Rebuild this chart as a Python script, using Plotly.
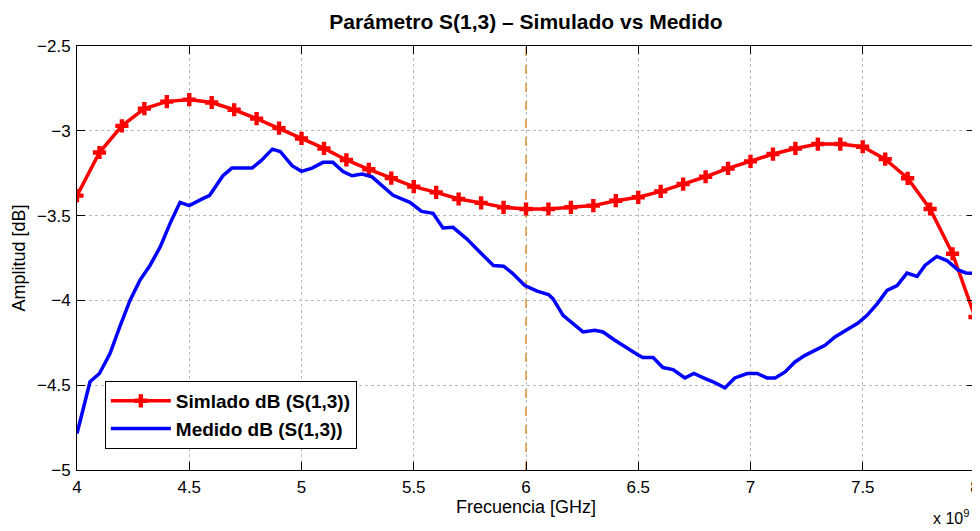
import plotly.graph_objects as go

# ---- data ----
sim_freq_ghz = [4.0, 4.1, 4.2, 4.3, 4.4, 4.5, 4.6, 4.7, 4.8, 4.9,
                5.0, 5.1, 5.2, 5.3, 5.4, 5.5, 5.6, 5.7, 5.8, 5.9,
                6.0, 6.1, 6.2, 6.3, 6.4, 6.5, 6.6, 6.7, 6.8, 6.9,
                7.0, 7.1, 7.2, 7.3, 7.4, 7.5, 7.6, 7.7, 7.8, 7.9, 8.0]
sim_db = [-3.382, -3.128, -2.971, -2.869, -2.828, -2.816, -2.833, -2.876, -2.928, -2.984,
          -3.045, -3.104, -3.172, -3.227, -3.279, -3.329, -3.363, -3.402, -3.425, -3.451,
          -3.461, -3.461, -3.451, -3.441, -3.412, -3.392, -3.357, -3.314, -3.271, -3.222,
          -3.180, -3.137, -3.104, -3.078, -3.078, -3.094, -3.167, -3.280, -3.461, -3.725, -4.098]

meas_freq_ghz = [4.0, 4.058, 4.10, 4.147, 4.19, 4.236, 4.28, 4.325, 4.37, 4.42,
                 4.459, 4.50, 4.56, 4.59, 4.65, 4.69, 4.78, 4.82, 4.87, 4.905,
                 4.958, 5.0, 5.047, 5.096, 5.14, 5.185, 5.225, 5.27, 5.314, 5.363,
                 5.408, 5.483, 5.535, 5.586, 5.63, 5.675, 5.736, 5.795, 5.855, 5.9,
                 5.94, 5.995, 6.05, 6.1, 6.12, 6.165, 6.21, 6.254, 6.307, 6.343,
                 6.396, 6.45, 6.494, 6.52, 6.566, 6.61, 6.655, 6.708, 6.748, 6.788,
                 6.833, 6.886, 6.93, 6.985, 7.03, 7.073, 7.11, 7.154, 7.198, 7.243,
                 7.287, 7.332, 7.376, 7.434, 7.479, 7.519, 7.564, 7.608, 7.653, 7.697,
                 7.742, 7.777, 7.83, 7.875, 7.924, 7.96, 8.0]
meas_db = [-4.785, -4.48, -4.431, -4.314, -4.157, -4.0, -3.882, -3.794, -3.686, -3.53,
           -3.422, -3.441, -3.40, -3.382, -3.265, -3.22, -3.22, -3.176, -3.108, -3.122,
           -3.206, -3.239, -3.22, -3.186, -3.186, -3.24, -3.265, -3.255, -3.272, -3.33,
           -3.38, -3.422, -3.475, -3.486, -3.573, -3.569, -3.637, -3.716, -3.794, -3.798,
           -3.84, -3.912, -3.945, -3.965, -3.99, -4.088, -4.141, -4.186, -4.176, -4.186,
           -4.235, -4.284, -4.318, -4.337, -4.337, -4.396, -4.408, -4.457, -4.431, -4.455,
           -4.48, -4.516, -4.457, -4.431, -4.431, -4.457, -4.457, -4.422, -4.363, -4.324,
           -4.294, -4.265, -4.216, -4.167, -4.133, -4.088, -4.02, -3.941, -3.912, -3.839,
           -3.859, -3.794, -3.741, -3.765, -3.82, -3.838, -3.84]

marker_freq_ghz = 6.0
x_range = [4, 8]
y_range = [-5, -2.5]
x_ticks = [4, 4.5, 5, 5.5, 6, 6.5, 7, 7.5, 8]
y_ticks = [-5, -4.5, -4, -3.5, -3, -2.5]

FONT = "Liberation Sans, Arial, sans-serif"

fig = go.Figure()
# vertical reference line at the marker frequency (drawn first, above the grid, below the curves)
fig.add_trace(go.Scatter(
    x=[marker_freq_ghz, marker_freq_ghz], y=y_range, mode="lines",
    line=dict(color="#e0903a", width=1.5, dash="dash"),
    showlegend=False, hoverinfo="skip",
))
fig.add_trace(go.Scatter(
    x=sim_freq_ghz, y=sim_db, mode="lines+markers",
    name="Simlado dB (S(1,3))",
    line=dict(color="#ff0000", width=3.5),
    marker=dict(symbol="cross", size=11, color="#ff0000",
                line=dict(width=0)),
))
fig.add_trace(go.Scatter(
    x=meas_freq_ghz, y=meas_db, mode="lines",
    name="Medido dB (S(1,3))",
    line=dict(color="#0000ff", width=3.5),
))

axis_common = dict(
    showline=True, linecolor="black", linewidth=1, mirror="ticks",
    ticks="inside", ticklen=8, tickcolor="black",
    showgrid=True, gridcolor="#b8b8b8", griddash="dot", gridwidth=1,
    zeroline=False, automargin=False,
    tickfont=dict(family=FONT, size=17, color="black"),
)

fig.update_xaxes(range=x_range, tickvals=x_ticks, ticktext=[f"{v:g}" for v in x_ticks],
                 ticklabelstandoff=2,
                 title=dict(text="Frecuencia [GHz]", standoff=2,
                            font=dict(family=FONT, size=18, color="black")),
                 **axis_common)
fig.update_yaxes(range=y_range, tickvals=y_ticks, ticklabelstandoff=2,
                 title=dict(text="Amplitud [dB]", standoff=6,
                            font=dict(family=FONT, size=18, color="black")),
                 **axis_common)

# the page body adds an 8 px offset; size the figure so the axes land where the reference has them
fig.update_layout(
    width=972, height=523,
    margin=dict(l=69, r=5, t=38, b=61),
    paper_bgcolor="white", plot_bgcolor="white",
    title=dict(text="<b>Parámetro S(1,3) – Simulado vs Medido</b>",
               font=dict(family=FONT, size=21, color="black"),
               xref="paper", x=0.5, xanchor="center",
               yref="container", y=0.9732, yanchor="middle"),
    legend=dict(x=0.031, y=0.21, xanchor="left", yanchor="top",
                bgcolor="white", bordercolor="black", borderwidth=1,
                font=dict(family=FONT, size=19, color="black", weight="bold"),
                itemwidth=60, tracegroupgap=0),
    showlegend=True,
)

fig.add_annotation(text="x 10<sup>9</sup>", xref="paper", yref="paper",
                   x=0.996, y=-0.138, xanchor="right", yanchor="bottom", showarrow=False,
                   font=dict(family=FONT, size=16, color="black"))

fig.write_html("out.html")
